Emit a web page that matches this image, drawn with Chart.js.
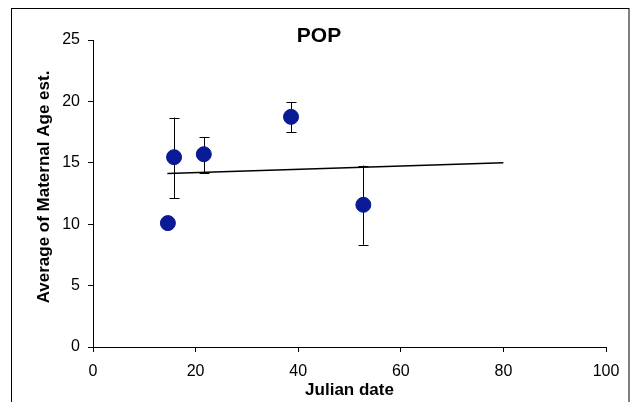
<!DOCTYPE html>
<html>
<head>
<meta charset="utf-8">
<script src="https://cdn.jsdelivr.net/npm/chart.js@4/dist/chart.umd.min.js"></script>
<style>
  html, body { margin: 0; padding: 0; background: #fff; }
  #wrap { width: 635px; height: 402px; position: relative; }
</style>
</head>
<body>
<div id="wrap"><canvas id="c" width="635" height="402"></canvas></div>
<script>
// Data
const julianDate   = [14.6, 15.8, 21.6, 38.6, 52.7];
const maternalAge  = [10.09, 15.46, 15.70, 18.74, 11.58];
const errorLow     = [null, 12.12, 14.21, 17.49, 8.32];
const errorHigh    = [null, 18.68, 17.11, 19.93, 14.78];
const trendX       = [14.5, 80];
const trendY       = [14.12, 15.0];
const xTicks       = [0, 20, 40, 60, 80, 100];
const yTicks       = [0, 5, 10, 15, 20, 25];
const chartTitle   = 'POP';
const xTitle       = 'Julian date';
const yTitle       = 'Average of Maternal Age est.';

const FONT = "'Liberation Sans', Arial, sans-serif";

const framePlugin = {
  id: 'frame',
  beforeDraw(chart) {
    const ctx = chart.ctx;
    ctx.save();
    ctx.fillStyle = '#fff';
    ctx.fillRect(0, 0, chart.width, chart.height);
    ctx.strokeStyle = '#000';
    ctx.lineWidth = 1;
    ctx.strokeRect(11.5, 8.5, 617.5, 410);
    ctx.restore();
  },
  afterDraw(chart) {
    const ctx = chart.ctx;
    ctx.save();
    ctx.fillStyle = '#000';
    ctx.font = 'bold 21px ' + FONT;
    ctx.textAlign = 'center';
    ctx.textBaseline = 'middle';
    ctx.fillText(chartTitle, 319, 36);
    // y axis title
    ctx.font = 'bold 17px ' + FONT;
    ctx.translate(44, 187);
    ctx.rotate(-Math.PI / 2);
    ctx.fillText(yTitle, 0, 0);
    ctx.restore();
  }
};

const errorBarPlugin = {
  id: 'errorBars',
  beforeDatasetsDraw(chart) {
    const ctx = chart.ctx;
    const xs = chart.scales.x, ys = chart.scales.y;
    ctx.save();
    ctx.strokeStyle = '#000';
    ctx.lineWidth = 1;
    for (let i = 0; i < julianDate.length; i++) {
      if (errorLow[i] == null) continue;
      const px = Math.round(xs.getPixelForValue(julianDate[i])) + 0.5;
      const y1 = ys.getPixelForValue(errorLow[i]);
      const y2 = ys.getPixelForValue(errorHigh[i]);
      ctx.beginPath();
      ctx.moveTo(px, y1); ctx.lineTo(px, y2);
      ctx.moveTo(px - 5, Math.round(y1) + 0.5); ctx.lineTo(px + 5, Math.round(y1) + 0.5);
      ctx.moveTo(px - 5, Math.round(y2) + 0.5); ctx.lineTo(px + 5, Math.round(y2) + 0.5);
      ctx.stroke();
    }
    ctx.restore();
  }
};

new Chart(document.getElementById('c'), {
  type: 'scatter',
  data: {
    datasets: [
      {
        type: 'line',
        data: trendX.map((x, i) => ({ x, y: trendY[i] })),
        borderColor: '#000',
        borderWidth: 1.5,
        pointRadius: 0,
        fill: false,
        order: 2
      },
      {
        data: julianDate.map((x, i) => ({ x, y: maternalAge[i] })),
        backgroundColor: '#0A1A96',
        borderColor: '#0A1A96',
        pointRadius: 7.5,
        pointHoverRadius: 7.5,
        order: 1
      }
    ]
  },
  options: {
    responsive: false,
    animation: false,
    events: [],
    layout: { padding: { left: 0, right: 29, top: 40, bottom: 0 } },
    plugins: {
      legend: { display: false },
      title: { display: false },
      tooltip: { enabled: false }
    },
    scales: {
      x: {
        type: 'linear',
        min: 0, max: 100,
        afterBuildTicks(s) { s.ticks = xTicks.map(v => ({ value: v })); },
        afterFit(s) { s.height = 55; },
        grid: { display: true, drawOnChartArea: false, drawTicks: true, tickLength: 5, color: '#000', lineWidth: 1 },
        border: { display: true, color: '#000', width: 1 },
        ticks: { color: '#000', font: { family: FONT, size: 16 }, padding: 10, maxRotation: 0 },
        title: { display: true, text: xTitle, color: '#000', font: { family: FONT, size: 17, weight: 'bold' }, padding: { top: 0, bottom: 1 } }
      },
      y: {
        type: 'linear',
        min: 0, max: 25,
        afterBuildTicks(s) { s.ticks = yTicks.map(v => ({ value: v })); },
        afterFit(s) { s.width = 93; },
        grid: { display: true, drawOnChartArea: false, drawTicks: true, tickLength: 5, color: '#000', lineWidth: 1 },
        border: { display: true, color: '#000', width: 1 },
        ticks: { color: '#000', font: { family: FONT, size: 16 }, padding: 8 },
        title: { display: false, text: yTitle }
      }
    }
  },
  plugins: [framePlugin, errorBarPlugin]
});
</script>
</body>
</html>
